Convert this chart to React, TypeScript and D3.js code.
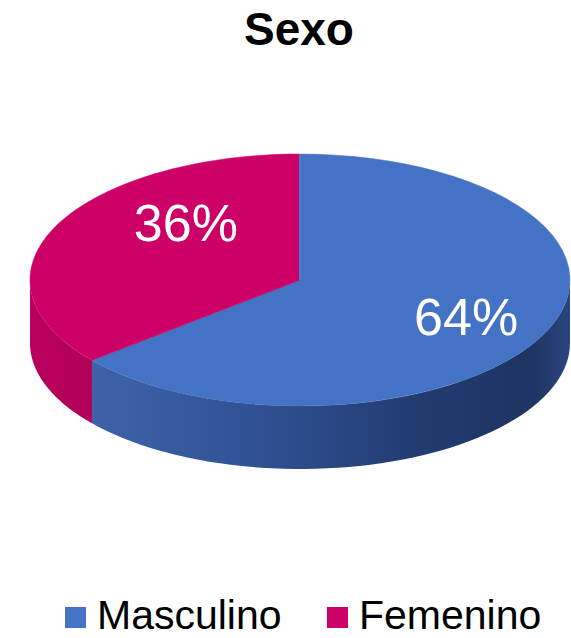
import React from 'react';
import * as d3 from 'd3';

const categories = ['Masculino', 'Femenino'];
const values = [64, 36];
const labels = ['64%', '36%'];

const topColors = ['#4472C4', '#CC0066'];

const W = 571;
const H = 638;
const cx = 300;
const cy = 280;
const rx = 270;
const ry = 126;
const depth = 63;

// point on the ellipse, angle measured clockwise from 12 o'clock
const pt = (a: number, f = 1, dy = 0): [number, number] => [
  cx + f * rx * Math.sin(a),
  cy - f * ry * Math.cos(a) + dy,
];

const arcPath = (a0: number, a1: number, dy = 0, n = 60) =>
  d3.range(n + 1).map(i => pt(a0 + ((a1 - a0) * i) / n, 1, dy));

const App: React.FC = () => {
  const pie = d3.pie<number>().sort(null).startAngle(0).endAngle(2 * Math.PI);
  const arcs = pie(values);
  const line = d3.line();

  // side walls for the front half (between 90 and 270 deg)
  const sides = arcs.map((d, i) => {
    const s = Math.max(d.startAngle, Math.PI / 2);
    const e = Math.min(d.endAngle, (3 * Math.PI) / 2);
    if (e <= s) return null;
    const upper = arcPath(s, e);
    const lower = arcPath(e, s, depth);
    return { i, path: line([...upper, ...lower])! + 'Z' };
  });

  const tops = arcs.map((d, i) => {
    const pts: [number, number][] = [[cx, cy], ...arcPath(d.startAngle, d.endAngle)];
    return { i, path: line(pts)! + 'Z' };
  });

  const labelShift: [number, number][] = [[0, 0], [52, -22]];

  return (
    <svg width={W} height={H} style={{ position: 'absolute', left: 0, top: 0 }}
      fontFamily="'Liberation Sans', Arial, sans-serif">
      <defs>
        <linearGradient id="blueSide" gradientUnits="userSpaceOnUse" x1={cx - rx} x2={cx + rx} y1={0} y2={0}>
          <stop offset="0" stopColor="#4468B0" />
          <stop offset="0.35" stopColor="#33559A" />
          <stop offset="0.75" stopColor="#213A6E" />
          <stop offset="0.93" stopColor="#1E3462" />
          <stop offset="1" stopColor="#2A4580" />
        </linearGradient>
        <linearGradient id="redSide" gradientUnits="userSpaceOnUse" x1={cx - rx} x2={cx} y1={0} y2={0}>
          <stop offset="0" stopColor="#B8005C" />
          <stop offset="1" stopColor="#A0004E" />
        </linearGradient>
      </defs>

      <text x={299} y={45} textAnchor="middle" fontSize={46} fontWeight="bold" fill="#000">Sexo</text>

      {sides.map(s => s && (
        <path key={'s' + s.i} d={s.path} fill={s.i === 0 ? 'url(#blueSide)' : 'url(#redSide)'} />
      ))}
      {tops.map(t => (
        <path key={'t' + t.i} d={t.path} fill={topColors[t.i]} stroke={topColors[t.i]} strokeWidth={0.5} />
      ))}
      <line x1={cx} y1={cy - ry} x2={cx} y2={cy} stroke="#4A7BD0" strokeWidth={2} />

      {arcs.map((d, i) => {
        const [x, y] = pt((d.startAngle + d.endAngle) / 2, 0.68);
        return (
          <text key={'l' + i} x={x + labelShift[i][0]} y={y + labelShift[i][1] + 19}
            textAnchor="middle" fontSize={52} fill="#fff">{labels[i]}</text>
        );
      })}

      {categories.map((c, i) => {
        const lx = [65, 327][i];
        return (
          <g key={c}>
            <rect x={lx} y={607} width={21} height={21} fill={topColors[i]} />
            <text x={lx + 32} y={628.5} fontSize={41} fill="#000">{c}</text>
          </g>
        );
      })}
    </svg>
  );
};

export default App;
